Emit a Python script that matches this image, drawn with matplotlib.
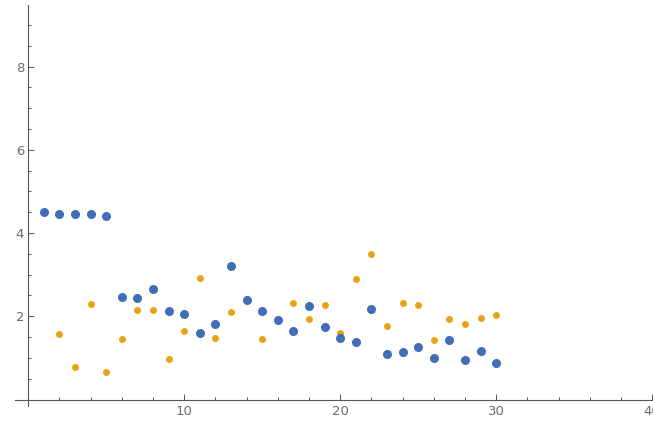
import numpy as np
import matplotlib.pyplot as plt
from matplotlib.ticker import MultipleLocator

# data
x_blue = list(range(1, 31))
y_blue = [4.50, 4.46, 4.46, 4.46, 4.42, 2.47, 2.43, 2.66, 2.13, 2.05,
          1.59, 1.81, 3.22, 2.38, 2.13, 1.91, 1.65, 2.25, 1.75, 1.49,
          1.37, 2.17, 1.10, 1.13, 1.25, 1.00, 1.43, 0.95, 1.17, 0.88]

x_orange = list(range(1, 31))
y_orange = [4.50, 1.58, 0.78, 2.29, 0.65, 1.45, 2.15, 2.15, 0.97, 1.65,
            2.93, 1.48, 2.10, 2.41, 1.46, 1.93, 2.32, 1.94, 2.27, 1.61,
            2.90, 3.50, 1.77, 2.33, 2.28, 1.43, 1.93, 1.81, 1.97, 2.04]

x_ticks = [10, 20, 30, 40]
y_ticks = [2, 4, 6, 8]

blue = '#416db6'
orange = '#e9a214'
axis_col = '#555555'
label_col = '#6a6a6a'

fig = plt.figure(figsize=(6.53, 4.23), dpi=100)
ax = fig.add_axes([15 / 653, 17 / 423, 638 / 653, 401 / 423])

ax.plot(x_orange, y_orange, 'o', color=orange, markersize=5, markeredgewidth=0, zorder=3)
ax.plot(x_blue, y_blue, 'o', color=blue, markersize=6.5, markeredgewidth=0, zorder=4)

ax.set_xlim(-0.85, 40.05)
ax.set_ylim(-0.156, 9.48)

for s in ['top', 'right']:
    ax.spines[s].set_visible(False)
ax.spines['left'].set_position(('data', 0))
ax.spines['bottom'].set_position(('data', 0))
for s in ['left', 'bottom']:
    ax.spines[s].set_color(axis_col)
    ax.spines[s].set_linewidth(0.8)

ax.set_xticks(x_ticks)
ax.set_yticks(y_ticks)
ax.xaxis.set_minor_locator(MultipleLocator(2))
ax.yaxis.set_minor_locator(MultipleLocator(0.5))
ax.tick_params(which='both', direction='in', color=axis_col, width=0.7)
ax.tick_params(which='major', length=4)
ax.tick_params(which='minor', length=2.5)
ax.tick_params(axis='x', which='major', pad=4)
ax.tick_params(axis='y', which='major', pad=3)
for lab in ax.get_xticklabels() + ax.get_yticklabels():
    lab.set_family(['Liberation Sans Narrow', 'DejaVu Sans'])
    lab.set_fontsize(9.5)
    lab.set_color(label_col)

fig.savefig('out.png', dpi=100)
